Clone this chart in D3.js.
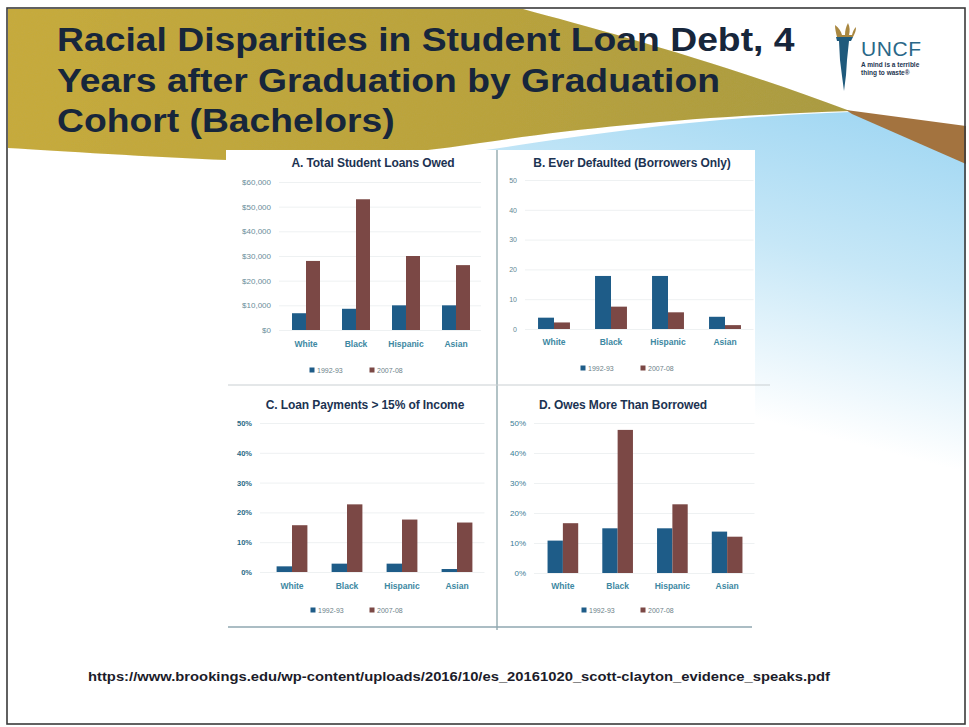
<!DOCTYPE html>
<html>
<head>
<meta charset="utf-8">
<script src="https://cdn.jsdelivr.net/npm/d3@7"></script>
<style>
  html, body { margin: 0; padding: 0; background: #ffffff; }
  svg { display: block; }
</style>
</head>
<body>
<div id="slide"></div>
<script>
// ---- data ----
const categories = ["White", "Black", "Hispanic", "Asian"];
const cohorts = ["1992-93", "2007-08"];

const loansOwed1992 = [6800, 8600, 10000, 10000];
const loansOwed2007 = [28000, 53000, 30000, 26300];

const defaulted1992 = [3.8, 17.8, 17.8, 4.1];
const defaulted2007 = [2.2, 7.5, 5.6, 1.3];

const payments1992 = [1.9, 2.8, 2.8, 1.0];
const payments2007 = [15.7, 22.7, 17.6, 16.6];

const owesMore1992 = [10.8, 14.9, 14.9, 13.8];
const owesMore2007 = [16.6, 47.7, 22.9, 12.1];

const loanTicks = [0, 10000, 20000, 30000, 40000, 50000, 60000];
const countTicks = [0, 10, 20, 30, 40, 50];
const pctTicks = [0, 10, 20, 30, 40, 50];

const titleLines = [
  "Racial Disparities in Student Loan Debt, 4",
  "Years after Graduation by Graduation",
  "Cohort (Bachelors)"
];
const sourceUrl = "https://www.brookings.edu/wp-content/uploads/2016/10/es_20161020_scott-clayton_evidence_speaks.pdf";

// ---- drawing ----
const W = 969, H = 727;
const FONT = "'Liberation Sans', Arial, sans-serif";
const svg = d3.select("#slide").append("svg")
  .attr("width", W).attr("height", H)
  .attr("viewBox", `0 0 ${W} ${H}`);

const defs = svg.append("defs");
const goldGrad = defs.append("linearGradient").attr("id", "gold")
  .attr("x1", 0).attr("y1", 0).attr("x2", 1).attr("y2", 0);
goldGrad.append("stop").attr("offset", 0).attr("stop-color", "#c8ab3b");
goldGrad.append("stop").attr("offset", 0.6).attr("stop-color", "#b9a23b");
goldGrad.append("stop").attr("offset", 1).attr("stop-color", "#a99a40");

const skyGrad = defs.append("linearGradient").attr("id", "sky")
  .attr("gradientUnits", "userSpaceOnUse")
  .attr("x1", 880).attr("y1", 120).attr("x2", 800).attr("y2", 430);
skyGrad.append("stop").attr("offset", 0).attr("stop-color", "#a3d8f3");
skyGrad.append("stop").attr("offset", 0.45).attr("stop-color", "#c6e7f7");
skyGrad.append("stop").attr("offset", 1).attr("stop-color", "#ffffff");

const grain = defs.append("filter").attr("id", "grain");
grain.append("feTurbulence").attr("type", "fractalNoise").attr("baseFrequency", 0.9)
  .attr("numOctaves", 2).attr("seed", 3).attr("result", "n");
grain.append("feColorMatrix").attr("in", "n").attr("type", "matrix")
  .attr("values", "0 0 0 0 0.45  0 0 0 0 0.38  0 0 0 0 0.1  0 0 0 0.22 0").attr("result", "c");
grain.append("feComposite").attr("in", "c").attr("in2", "SourceGraphic").attr("operator", "in").attr("result", "m");
const gm = grain.append("feMerge");
gm.append("feMergeNode").attr("in", "SourceGraphic");
gm.append("feMergeNode").attr("in", "m");

// background
svg.append("rect").attr("width", W).attr("height", H).attr("fill", "#ffffff");

// sky-blue wave on the right, fading out downwards
svg.append("path")
  .attr("d", "M470,152 C560,140 680,118 850,112 L966,160 L966,620 L470,620 Z")
  .attr("fill", "url(#sky)");

// gold swoosh behind the title
svg.append("path")
  .attr("d", "M8,9 L523,9 C600,30 720,62 850,111 C700,116 580,128 480,143 C380,158 300,162 227,160 C150,157 60,151 8,148 Z")
  .attr("fill", "url(#gold)")
  .attr("filter", "url(#grain)");

// brown stripe at the right edge
svg.append("path")
  .attr("d", "M846,110 L966,126 L966,164 L852,114 Z")
  .attr("fill", "#a3733f");

// white panel area for the four charts
svg.append("rect").attr("x", 226).attr("y", 150).attr("width", 529).attr("height", 478)
  .attr("fill", "#ffffff");

// panel dividers
svg.append("line").attr("x1", 497).attr("x2", 497).attr("y1", 150).attr("y2", 630)
  .attr("stroke", "#7f9aa0").attr("stroke-width", 1.2);
svg.append("line").attr("x1", 228).attr("x2", 770).attr("y1", 385).attr("y2", 385)
  .attr("stroke", "#c9cfd2").attr("stroke-width", 1);
svg.append("line").attr("x1", 228).attr("x2", 752).attr("y1", 627).attr("y2", 627)
  .attr("stroke", "#8fa7b0").attr("stroke-width", 1.6);

// slide frame
svg.append("rect").attr("x", 7).attr("y", 8).attr("width", 958).attr("height", 716)
  .attr("fill", "none").attr("stroke", "#3a3a3a").attr("stroke-width", 1.6);

// title (slightly widened lettering)
const title = svg.append("g").attr("font-family", FONT)
  .attr("font-weight", "bold").attr("font-size", 33).attr("fill", "#17263b");
titleLines.forEach((t, i) => {
  title.append("text")
    .attr("transform", `translate(57,${51 + i * 40.5}) scale(1.13,1)`)
    .text(t);
});

// UNCF logo
const logo = svg.append("g");
logo.append("path")
  .attr("d", "M835,25 C839,28 841,31 842,35 L845,35 C845,30 846,27 848,23 C850,27 850,31 849,35 L852,35 C853,31 854,29 856,27 C856,31 855,33 853,37 L837,37 C836,33 835,29 835,25 Z")
  .attr("fill", "#a98740");
logo.append("path")
  .attr("d", "M836,37 L853,37 L851,41 L849,41 L847,60 L846,75 L844,91 L842,76 L840,60 L839,41 L837,41 Z")
  .attr("fill", "#1f5a7c");
logo.append("text").attr("x", 861).attr("y", 56)
  .attr("font-family", FONT).attr("font-size", 21)
  .attr("fill", "#2a6888").attr("letter-spacing", 0.6).text("UNCF");
logo.append("text").attr("x", 861).attr("y", 67)
  .attr("font-family", FONT).attr("font-size", 6.5)
  .attr("font-weight", "bold").attr("fill", "#1d3550").text("A mind is a terrible");
logo.append("text").attr("x", 861).attr("y", 75)
  .attr("font-family", FONT).attr("font-size", 6.5)
  .attr("font-weight", "bold").attr("fill", "#1d3550").text("thing to waste\u00AE");

// source line
svg.append("text").attr("x", 88).attr("y", 681)
  .attr("font-family", FONT).attr("font-size", 13)
  .attr("font-weight", "bold").attr("fill", "#1c1c2a")
  .attr("textLength", 742).attr("lengthAdjust", "spacingAndGlyphs")
  .text(sourceUrl);

// ---- chart panels ----
const BLUE = "#1e5c88", BROWN = "#7b4845";

const panels = [
  {
    title: "A. Total Student Loans Owed", s1: loansOwed1992, s2: loansOwed2007,
    ticks: loanTicks, max: 60000, fmt: d => "$" + d3.format(",")(d),
    x0: 281, x1: 481, yTop: 182, yBottom: 330, labelX: 271,
    titleX: 373, titleY: 163, catY: 345, legendY: 370, legendX: [312, 372],
    tickColor: "#6a8d99", tickSize: 8, tickWeight: "normal"
  },
  {
    title: "B. Ever Defaulted (Borrowers Only)", s1: defaulted1992, s2: defaulted2007,
    ticks: countTicks, max: 50, fmt: d => String(d),
    x0: 525.5, x1: 753.5, yTop: 180, yBottom: 329, labelX: 517,
    titleX: 632, titleY: 163, catY: 343, legendY: 368, legendX: [583, 643],
    tickColor: "#5f8794", tickSize: 7, tickWeight: "normal"
  },
  {
    title: "C. Loan Payments > 15% of Income", s1: payments1992, s2: payments2007,
    ticks: pctTicks, max: 50, fmt: d => d + "%",
    x0: 264.5, x1: 484.5, yTop: 423, yBottom: 572, labelX: 252,
    titleX: 365, titleY: 405, catY: 587, legendY: 610, legendX: [313, 372],
    tickColor: "#2b6a86", tickSize: 7.5, tickWeight: "bold"
  },
  {
    title: "D. Owes More Than Borrowed", s1: owesMore1992, s2: owesMore2007,
    ticks: pctTicks, max: 50, fmt: d => d + "%",
    x0: 535.5, x1: 754.5, yTop: 423, yBottom: 573, labelX: 526,
    titleX: 623, titleY: 405, catY: 587, legendY: 610, legendX: [584, 643],
    tickColor: "#3a7d96", tickSize: 8, tickWeight: "normal"
  }
];

panels.forEach(p => {
  const g = svg.append("g");

  const x = d3.scaleBand().domain(categories).range([p.x0, p.x1])
    .paddingInner(0.44).paddingOuter(0.22);
  const xs = d3.scaleBand().domain(cohorts).range([0, x.bandwidth()]).padding(0);
  const y = d3.scaleLinear().domain([0, p.max]).range([p.yBottom, p.yTop]);

  // y axis with faint gridlines
  const axisX = p.labelX + 8;
  const yAxis = d3.axisLeft(y).tickValues(p.ticks).tickFormat(p.fmt)
    .tickSizeInner(-(p.x1 - axisX)).tickSizeOuter(0).tickPadding(8);
  const ya = g.append("g").attr("transform", `translate(${axisX},0)`).call(yAxis);
  ya.select(".domain").remove();
  ya.selectAll(".tick line").attr("stroke", "#eef1f2").attr("stroke-width", 1);
  ya.selectAll(".tick text").attr("font-family", FONT).attr("font-size", p.tickSize)
    .attr("font-weight", p.tickWeight).attr("fill", p.tickColor);

  // bars
  const rows = categories.map((c, i) => ({ cat: c, vals: [p.s1[i], p.s2[i]] }));
  const grp = g.selectAll(".grp").data(rows).join("g")
    .attr("transform", d => `translate(${x(d.cat)},0)`);
  grp.selectAll("rect").data(d => d.vals.map((v, j) => ({ k: cohorts[j], v })))
    .join("rect")
    .attr("x", d => xs(d.k)).attr("width", xs.bandwidth())
    .attr("y", d => y(d.v)).attr("height", d => y(0) - y(d.v))
    .attr("fill", d => d.k === cohorts[0] ? BLUE : BROWN);

  // category labels
  const xAxis = d3.axisBottom(x).tickSize(0).tickPadding(0);
  const xa = g.append("g").attr("transform", `translate(0,${p.catY - 4})`).call(xAxis);
  xa.select(".domain").remove();
  xa.selectAll(".tick text").attr("font-family", FONT).attr("font-size", 8.5)
    .attr("font-weight", "bold").attr("fill", "#3d88a2");

  // title
  g.append("text").attr("x", p.titleX).attr("y", p.titleY + 4)
    .attr("text-anchor", "middle").attr("font-family", FONT)
    .attr("font-weight", "bold").attr("font-size", 12).attr("fill", "#1c3352")
    .attr("letter-spacing", -0.1).text(p.title);

  // legend
  cohorts.forEach((c, j) => {
    const lx = p.legendX[j];
    g.append("rect").attr("x", lx - 2.5).attr("y", p.legendY - 2.5)
      .attr("width", 5).attr("height", 5).attr("fill", j === 0 ? BLUE : BROWN);
    g.append("text").attr("x", lx + 5).attr("y", p.legendY + 2.5)
      .attr("font-family", FONT).attr("font-size", 7).attr("fill", "#6d7f88").text(c);
  });
});
</script>
</body>
</html>
